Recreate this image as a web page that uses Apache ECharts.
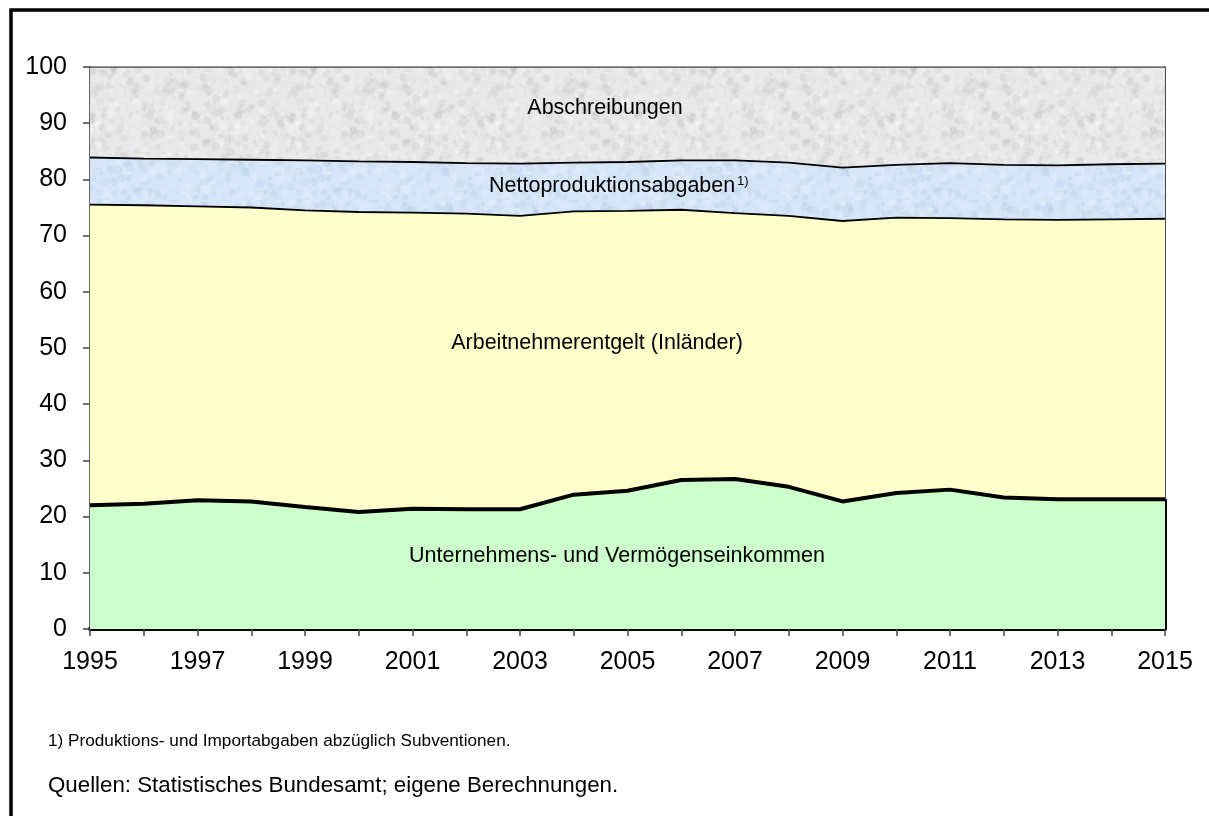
<!DOCTYPE html>
<html>
<head>
<meta charset="utf-8">
<script src="https://cdn.jsdelivr.net/npm/echarts@6/dist/echarts.min.js"></script>
<style>
  html, body { margin: 0; padding: 0; background: #fff; }
  #chart { width: 1209px; height: 816px; }
</style>
</head>
<body>
<div id="chart"></div>
<script>
  // Jahre
  var years = ['1995','1996','1997','1998','1999','2000','2001','2002','2003','2004','2005',
               '2006','2007','2008','2009','2010','2011','2012','2013','2014','2015'];
  // Anteile in % (gestapelt)
  var unternehmen = [22.0,22.3,22.9,22.7,21.7,20.8,21.4,21.3,21.3,23.9,24.6,26.5,26.7,25.3,22.7,24.2,24.8,23.4,23.1,23.1,23.1];
  var arbeitnehmer = [53.5,53.1,52.3,52.3,52.8,53.4,52.7,52.6,52.2,50.4,49.8,48.1,47.3,48.2,49.9,49.0,48.3,49.5,49.7,49.8,49.9];
  var netto = [8.4,8.3,8.4,8.5,8.9,9.0,9.0,9.0,9.3,8.7,8.7,8.8,9.4,9.5,9.5,9.4,9.8,9.7,9.7,9.8,9.8];
  var abschreibungen = [16.1,16.3,16.4,16.5,16.6,16.8,16.9,17.1,17.2,17.0,16.9,16.6,16.6,17.0,17.9,17.4,17.1,17.4,17.5,17.3,17.2];
  var yTicks = [0,10,20,30,40,50,60,70,80,90,100];

  var FONT = '"Liberation Sans", Arial, sans-serif';

  // Struktur-Textur (Stein-Optik wie im Original)
  function texture(base, dark, light) {
    var c = document.createElement('canvas');
    c.width = 200; c.height = 200;
    var ctx = c.getContext('2d');
    ctx.fillStyle = base;
    ctx.fillRect(0, 0, 200, 200);
    var seed = 11;
    function rnd() { seed = (seed * 16807) % 2147483647; return seed / 2147483647; }
    for (var i = 0; i < 1400; i++) {
      ctx.globalAlpha = 0.08 + rnd() * 0.16;
      ctx.fillStyle = rnd() < 0.5 ? dark : light;
      ctx.beginPath();
      ctx.arc(rnd() * 200, rnd() * 200, 1 + rnd() * 3.5, 0, Math.PI * 2);
      ctx.fill();
    }
    ctx.globalAlpha = 1;
    return c;
  }
  var greyTex = texture('#e8e8e8', '#b8b8b8', '#fdfdfd');
  var blueTex = texture('#d6e6f8', '#a8c2e0', '#f0f6fd');

  var chart = echarts.init(document.getElementById('chart'));
  var option = {
    animation: false,
    backgroundColor: '#fff',
    grid: { left: 90, right: 44, top: 67, bottom: 187 },
    xAxis: {
      type: 'category',
      data: years,
      boundaryGap: false,
      axisLine: { lineStyle: { color: '#000', width: 4 } },
      axisTick: { interval: 0, length: 7, lineStyle: { color: '#444', width: 1.5 } },
      axisLabel: { interval: 1, margin: 21, color: '#000', fontSize: 25, fontFamily: FONT },
      splitLine: { show: false }
    },
    yAxis: [{
      type: 'value',
      min: 0, max: 100, interval: 10,
      axisLine: { show: true, lineStyle: { color: '#333', width: 1.5 } },
      axisTick: { show: true, length: 7, lineStyle: { color: '#444', width: 1.5 } },
      axisLabel: { margin: 23, color: '#000', fontSize: 25, fontFamily: FONT,
        formatter: function (v) { return yTicks.indexOf(v) >= 0 ? String(v) : ''; } },
      splitLine: { show: false }
    }, {
      type: 'value',
      min: 0, max: 100, interval: 10,
      position: 'right',
      axisLine: { show: true, lineStyle: { color: '#111', width: 1.5 } },
      axisTick: { show: false },
      axisLabel: { show: false },
      splitLine: { show: false }
    }],
    series: [{
      name: 'Unternehmens- und Vermögenseinkommen',
      type: 'line', stack: 'a', symbol: 'none',
      data: unternehmen,
      lineStyle: { color: '#000', width: 4 },
      areaStyle: { color: '#ccffcc', opacity: 1 },
      z: 5,
      markLine: {
        silent: true, symbol: 'none', label: { show: false },
        lineStyle: { color: '#000', width: 4, type: 'solid' },
        data: [[{ coord: [years[years.length - 1], 0] },
                { coord: [years[years.length - 1], unternehmen[unternehmen.length - 1]] }]]
      }
    }, {
      name: 'Arbeitnehmerentgelt (Inländer)',
      type: 'line', stack: 'a', symbol: 'none',
      data: arbeitnehmer,
      lineStyle: { color: '#000', width: 1.8 },
      areaStyle: { color: '#ffffcc', opacity: 1 },
      z: 4
    }, {
      name: 'Nettoproduktionsabgaben',
      type: 'line', stack: 'a', symbol: 'none',
      data: netto,
      lineStyle: { color: '#000', width: 1.8 },
      areaStyle: { color: { image: blueTex, repeat: 'repeat' }, opacity: 1 },
      z: 3
    }, {
      name: 'Abschreibungen',
      type: 'line', stack: 'a', symbol: 'none',
      data: abschreibungen,
      lineStyle: { color: '#444', width: 1.5 },
      areaStyle: { color: { image: greyTex, repeat: 'repeat' }, opacity: 1 },
      z: 2
    }],
    graphic: [
      { type: 'rect', silent: true, z: 100,
        shape: { x: 11, y: 10, width: 1400, height: 1000 },
        style: { fill: 'none', stroke: '#000', lineWidth: 3.5 } },
      { type: 'text', x: 605, y: 108, z: 50,
        style: { text: 'Abschreibungen', font: '21.5px ' + FONT, fill: '#000', textAlign: 'center', textVerticalAlign: 'middle' } },
      { type: 'text', x: 489, y: 186, z: 50,
        style: { text: 'Nettoproduktionsabgaben', font: '21.5px ' + FONT, fill: '#000', textAlign: 'left', textVerticalAlign: 'middle' } },
      { type: 'text', x: 737, y: 181, z: 50,
        style: { text: '1)', font: '13px ' + FONT, fill: '#000', textAlign: 'left', textVerticalAlign: 'middle' } },
      { type: 'text', x: 597, y: 343, z: 50,
        style: { text: 'Arbeitnehmerentgelt (Inländer)', font: '21.5px ' + FONT, fill: '#000', textAlign: 'center', textVerticalAlign: 'middle' } },
      { type: 'text', x: 617, y: 556, z: 50,
        style: { text: 'Unternehmens- und Vermögenseinkommen', font: '21.5px ' + FONT, fill: '#000', textAlign: 'center', textVerticalAlign: 'middle' } },
      { type: 'text', x: 48, y: 741, z: 50,
        style: { text: '1) Produktions- und Importabgaben abzüglich Subventionen.', font: '17.2px ' + FONT, fill: '#000', textAlign: 'left', textVerticalAlign: 'middle' } },
      { type: 'text', x: 48, y: 786, z: 50,
        style: { text: 'Quellen: Statistisches Bundesamt; eigene Berechnungen.', font: '22.3px ' + FONT, fill: '#000', textAlign: 'left', textVerticalAlign: 'middle' } }
    ]
  };
  chart.setOption(option);
</script>
</body>
</html>
